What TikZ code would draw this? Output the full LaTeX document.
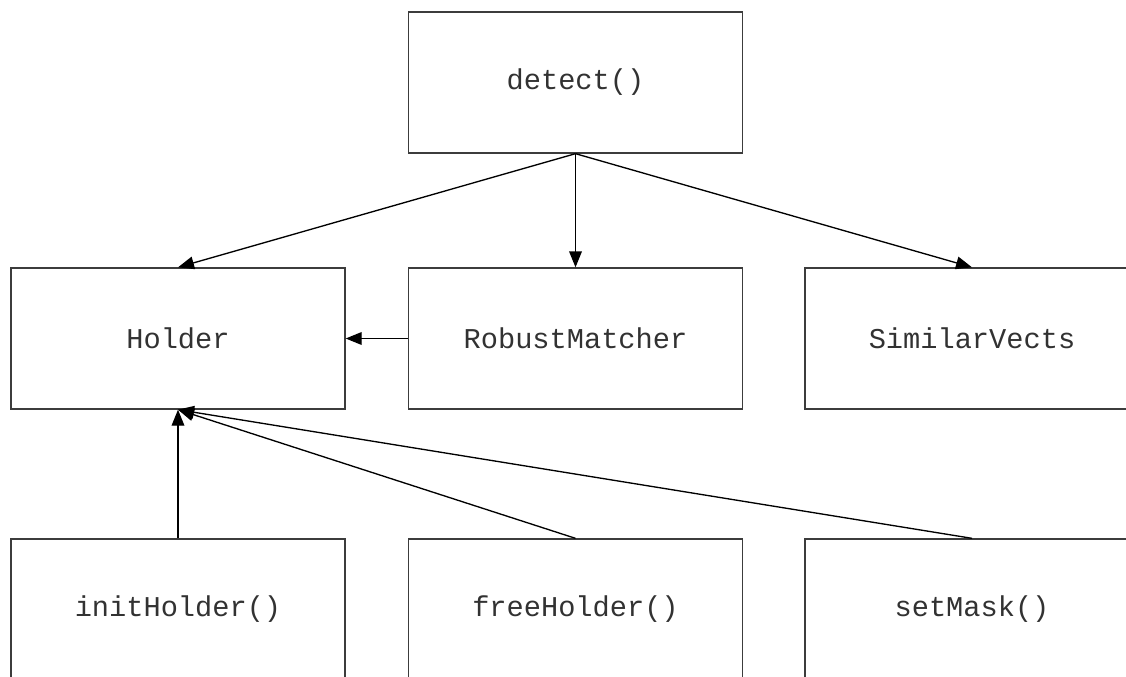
\documentclass[tikz,border=0pt]{standalone}
\usepackage{fontspec}
\setmonofont{Liberation Mono}
\usetikzlibrary{arrows.meta}

\definecolor{boxline}{RGB}{60,60,60}
\definecolor{fntext}{RGB}{50,50,50}

\tikzset{every picture/.style={line width=1pt}}

\begin{document}
\begin{tikzpicture}[x=0.75pt,y=0.75pt,yscale=-1,xscale=1,
  fnbox/.style={draw=boxline, text=fntext, minimum width=250.5pt, minimum height=105.75pt, inner sep=0pt, font=\ttfamily\fontsize{21.5}{26}\selectfont},
  call/.style={-{Triangle[length=12pt,width=9.5pt]}, black}]
%set diagram area to the full 1126 x 677 frame
\useasboundingbox (0,0) rectangle (1126,677);

% Text Node
\draw (575.5,82.5) node [fnbox] (detect) {detect()};
% Text Node
\draw (178,338.5) node [fnbox] (holder) {Holder};
% Text Node
\draw (575.5,338.5) node [fnbox] (matcher) {RobustMatcher};
% Text Node
\draw (972,338.5) node [fnbox] (similar) {SimilarVects};
% Text Node
\draw (178,609.5) node [fnbox] (init) {initHolder()};
% Text Node
\draw (575.5,609.5) node [fnbox] (free) {freeHolder()};
% Text Node
\draw (972,609.5) node [fnbox] (mask) {setMask()};

%Straight Lines
\draw [call] (detect.south) -- (holder.north);
\draw [call] (detect.south) -- (matcher.north);
\draw [call] (detect.south) -- (similar.north);
\draw [call] (matcher.west) -- (holder.east);
%Straight Lines
\draw [call] (init.north) -- (holder.south);
\draw [call] (free.north) -- (holder.south);
\draw [call] (mask.north) -- (holder.south);

\end{tikzpicture}
\end{document}
